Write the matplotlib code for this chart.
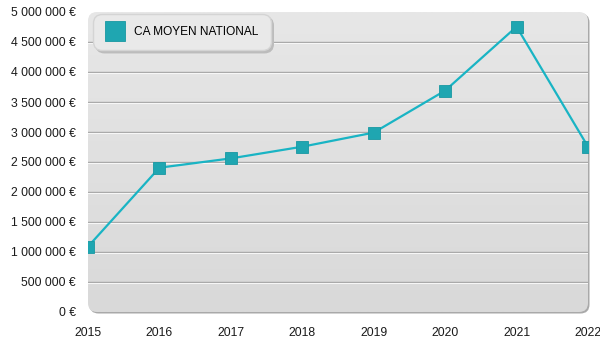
import matplotlib
matplotlib.use("Agg")
import matplotlib.pyplot as plt
import matplotlib.patches as mpatches
from matplotlib.transforms import IdentityTransform, ScaledTranslation
from matplotlib.lines import Line2D
from matplotlib.colors import LinearSegmentedColormap
import numpy as np

years = [2015, 2016, 2017, 2018, 2019, 2020, 2021, 2022]
ca_moyen = [1090000, 2405000, 2560000, 2755000, 2990000, 3690000, 4755000, 2755000]
series_label = "CA MOYEN NATIONAL"
y_ticks = [0, 500000, 1000000, 1500000, 2000000, 2500000, 3000000, 3500000, 4000000, 4500000, 5000000]

plt.rcParams['font.family'] = ['Liberation Sans', 'DejaVu Sans']

def fmt(v):
    s = f"{int(v):,}".replace(",", " ")
    return s + " €"

fig = plt.figure(figsize=(6, 3.5), dpi=100)
fig.patch.set_facecolor("white")
L, R, B, T = 88, 588, 38, 338
ax = fig.add_axes([L / 600, B / 350, (R - L) / 600, (T - B) / 350])
ax.set_zorder(2)
ax.patch.set_visible(False)
for s in ax.spines.values():
    s.set_visible(False)

# shadow + panel (display pixel coords)
shadow = mpatches.FancyBboxPatch((L + 1.5, B - 1.5), R - L, T - B,
                                 boxstyle="round,pad=0,rounding_size=9",
                                 transform=IdentityTransform(), facecolor="#a9a9a9",
                                 edgecolor="none", zorder=-2)
fig.patches.append(shadow)

ax.set_xlim(years[0], years[-1])
ax.set_ylim(0, 5000000)

grad = np.linspace(0, 1, 256).reshape(-1, 1)
cmap = LinearSegmentedColormap.from_list("g", ["#d9d9d9", "#e7e7e7"])
im = ax.imshow(grad, cmap=cmap, aspect="auto", origin="lower",
               extent=[years[0], years[-1], 0, 5000000], zorder=0.6)
clip = mpatches.FancyBboxPatch((L, B), R - L, T - B,
                               boxstyle="round,pad=0,rounding_size=9", transform=IdentityTransform())
im.set_clip_path(clip)

for yv in y_ticks[1:-1]:
    ax.axhline(yv, color="#a6a6a6", lw=1.0, zorder=1)
    ax.plot([0, 1], [yv, yv],
            transform=ax.get_yaxis_transform() + ScaledTranslation(0, -1 / 100, fig.dpi_scale_trans),
            color="#f7f7f7", lw=0.8, zorder=1)

ax.plot(years, ca_moyen, color="#19b4c4", lw=1.6, zorder=3,
        marker="s", markersize=8, markerfacecolor="#1fa6b1",
        markeredgecolor="#1898a2", markeredgewidth=0.6, clip_on=True)

ax.set_yticks(y_ticks)
ax.set_yticklabels([fmt(v) for v in y_ticks])
ax.set_xticks(years)
ax.set_xticklabels([str(y) for y in years])
ax.tick_params(axis="both", length=0, labelsize=8.8, colors="#1a1a1a")
ax.tick_params(axis="y", pad=8.5)
ax.tick_params(axis="x", pad=11)

handle = Line2D([], [], color="none", marker="s", markersize=14,
                markerfacecolor="#1fa6b1", markeredgecolor="#1898a2", markeredgewidth=0.6)
leg = ax.legend([handle], [series_label], loc="upper left",
                bbox_to_anchor=(0.01, 0.993), frameon=True, fancybox=True,
                shadow={"color": "#bcbcbc", "alpha": 1}, fontsize=8.6,
                handlelength=1.6, handletextpad=0.85, borderpad=1.0,
                borderaxespad=0, facecolor="#e9e9e9", edgecolor="#d4d4d4", framealpha=1)
leg.get_frame().set_boxstyle("round,pad=0,rounding_size=0.75")
leg.set_zorder(5)

fig.savefig("out.png", dpi=100)
